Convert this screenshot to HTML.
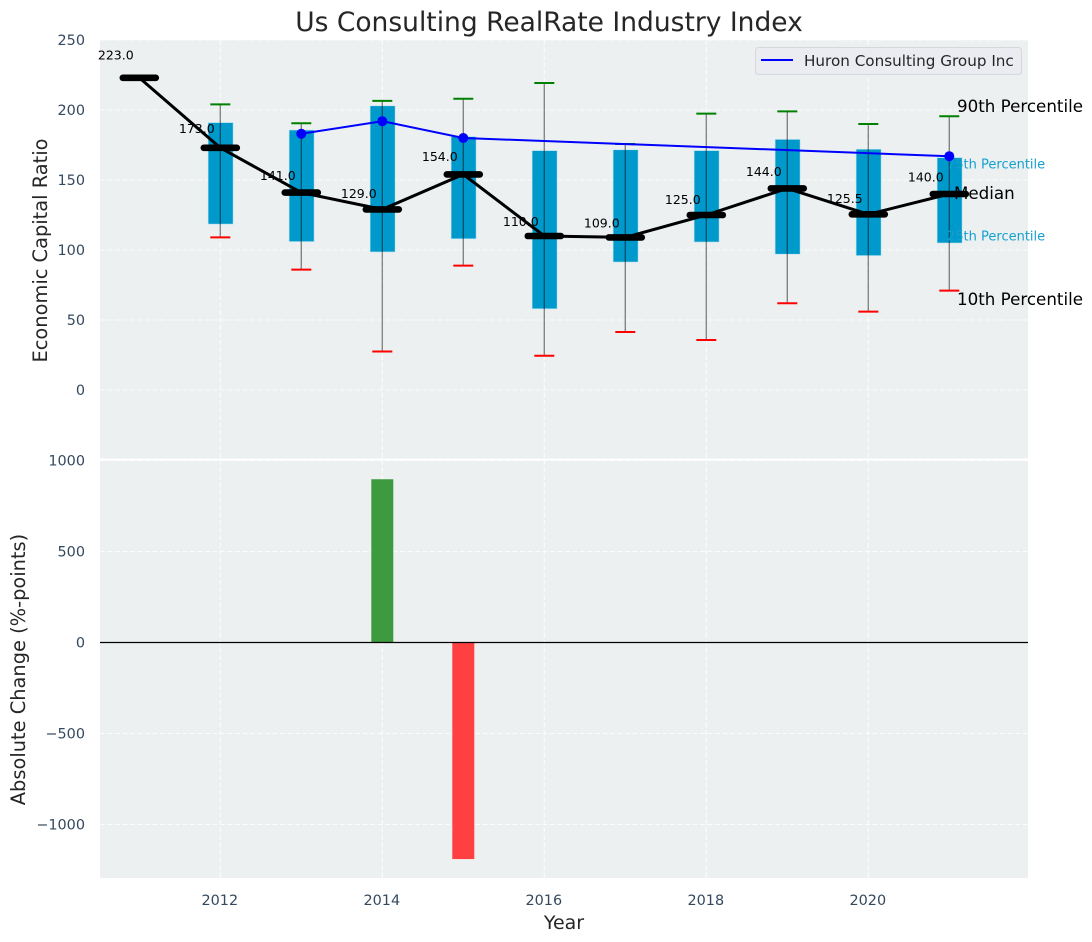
<!DOCTYPE html>
<html lang="en">
<head>
<meta charset="utf-8">
<title>Us Consulting RealRate Industry Index</title>
<style>
html,body{margin:0;padding:0;background:#fff;width:1092px;height:942px;overflow:hidden}
svg{display:block;font-family:"DejaVu Sans","Liberation Sans",sans-serif}
</style>
</head>
<body>
<svg id="chart" xmlns="http://www.w3.org/2000/svg" width="1092" height="942" viewBox="0 0 1092 942">
  <rect x="100" y="40" width="928" height="419.5" fill="#ecf0f1"/>
  <rect x="100" y="459.5" width="928" height="418.5" fill="#ecf0f1"/>
  <g id="grid"></g>
  <g id="ticks"></g>
  <g id="boxes"></g>
  <g id="percentile-back">
    <text x="947" y="168.5" font-size="13" fill="#14a0cf">75th Percentile</text>
    <text x="947" y="240.5" font-size="13" fill="#14a0cf">25th Percentile</text>
  </g>
  <g id="huron"></g>
  <g id="median"></g>
  <g id="bars"></g>
  <line x1="100" x2="1028" y1="642.5" y2="642.5" stroke="#000" stroke-width="1.2"/>
  <rect x="100" y="458.5" width="928" height="2" fill="#fff"/>
  <g font-size="16.7" fill="#000">
    <text x="957" y="112">90th Percentile</text>
    <text x="954" y="199">Median</text>
    <text x="957" y="305">10th Percentile</text>
  </g>
  <text x="549" y="31" font-size="26.5" text-anchor="middle" fill="#262626">Us Consulting RealRate Industry Index</text>
  <text x="564" y="929" font-size="19" text-anchor="middle" fill="#262626">Year</text>
  <text transform="translate(47 250.5) rotate(-90)" font-size="19.4" text-anchor="middle" fill="#262626">Economic Capital Ratio</text>
  <text transform="translate(25 669.5) rotate(-90)" font-size="19.4" text-anchor="middle" fill="#262626">Absolute Change (%-points)</text>
  <g>
    <rect x="755.5" y="47.5" width="266" height="27" rx="3" fill="#eaecf1" stroke="#d6d7da" stroke-width="1"/>
    <line x1="761" x2="793" y1="60" y2="60" stroke="#0000ff" stroke-width="2"/>
    <text x="804" y="66" font-size="15.2" fill="#262626">Huron Consulting Group Inc</text>
  </g>
</svg>
<script>
const years = [2011, 2012, 2013, 2014, 2015, 2016, 2017, 2018, 2019, 2020, 2021];
const medianValues = [223, 173, 141, 129, 154, 110, 109, 125, 144, 125.5, 140];
const p90Values = [null, 204, 190.5, 206.5, 208, 219.3, 175.7, 197.4, 199, 190, 195.5];
const p75Values = [null, 191, 185.7, 203, 181, 171, 171.6, 171, 179, 172, 166];
const p25Values = [null, 118.5, 106, 98.6, 108, 58, 91.4, 105.7, 97, 96, 105];
const p10Values = [null, 109, 86, 27.5, 88.8, 24.5, 41.4, 35.7, 62, 56, 71];
const huronValues = [null, null, 183, 192, 180, null, null, null, null, null, 167];
const changeValues = [null, null, null, 897, -1190, null, null, null, null, null, null];
const topTicks = [0, 50, 100, 150, 200, 250];
const bottomTicks = [-1000, -500, 0, 500, 1000];
const xTicks = [2012, 2014, 2016, 2018, 2020];

const NS = 'http://www.w3.org/2000/svg';
function xScale(year) { return 220.3 + (year - 2012) * 81; }
function yTop(v) { return 390 - 1.4 * v; }
function yBottom(v) { return 642.5 - 0.182 * v; }
function make(tag, parentId, props) {
  const el = document.createElementNS(NS, tag);
  for (const k in props) el.setAttribute(k, props[k]);
  document.getElementById(parentId).appendChild(el);
  return el;
}

const gridStyle = { stroke: '#ffffff', 'stroke-width': 1.1, 'stroke-dasharray': '5 2.5', opacity: 0.85 };
xTicks.forEach(function (t) {
  const g = make('line', 'grid', Object.assign({ x1: xScale(t), x2: xScale(t), y1: 40, y2: 878 }, gridStyle));
  
  
  const lab = make('text', 'ticks', { x: xScale(t) - 0.5, y: 905, 'font-size': 14.4, 'text-anchor': 'middle', fill: '#34495e' });
  lab.textContent = String(t);
  
  
});
topTicks.forEach(function (t) {
  const g = make('line', 'grid', Object.assign({ x1: 100, x2: 1028, y1: yTop(t), y2: yTop(t) }, gridStyle));
  
  
  const lab = make('text', 'ticks', { x: 85, y: yTop(t) + 5, 'font-size': 14.4, 'text-anchor': 'end', fill: '#34495e' });
  lab.textContent = String(t);
  
  
});
bottomTicks.forEach(function (t) {
  const g = make('line', 'grid', Object.assign({ x1: 100, x2: 1028, y1: yBottom(t), y2: yBottom(t) }, gridStyle));
  
  
  const lab = make('text', 'ticks', { x: 85, y: yBottom(t) + 5, 'font-size': 14.4, 'text-anchor': 'end', fill: '#34495e' });
  lab.textContent = String(t).replace('-', '\u2212');
  
  
});

years.forEach(function (year, i) {
  if (p75Values[i] === null) return;
  const cx = xScale(year);
  const box = make('rect', 'boxes', { x: cx - 12.2, y: yTop(p75Values[i]), width: 25, height: yTop(p25Values[i]) - yTop(p75Values[i]), fill: '#0099cc', stroke: '#bfe3ef', 'stroke-width': 0.6 });
  
  
  const whisker = make('line', 'boxes', { x1: cx, x2: cx, y1: yTop(p90Values[i]), y2: yTop(p10Values[i]), stroke: '#000', 'stroke-width': 1.4, opacity: 0.45 });
  
  
  const capHigh = make('line', 'boxes', { x1: cx - 10, x2: cx + 10, y1: yTop(p90Values[i]), y2: yTop(p90Values[i]), stroke: '#008000', 'stroke-width': 2 });
  
  
  const capLow = make('line', 'boxes', { x1: cx - 10, x2: cx + 10, y1: yTop(p10Values[i]), y2: yTop(p10Values[i]), stroke: '#ff0000', 'stroke-width': 2 });
  
  
});

const huronPoints = [];
years.forEach(function (year, i) {
  if (huronValues[i] !== null) huronPoints.push(xScale(year) + ',' + yTop(huronValues[i]));
});
const huronLine = make('polyline', 'huron', { points: huronPoints.join(' '), fill: 'none', stroke: '#0000ff', 'stroke-width': 2 });


years.forEach(function (year, i) {
  if (huronValues[i] === null) return;
  const dot = make('circle', 'huron', { cx: xScale(year), cy: yTop(huronValues[i]), r: 5, fill: '#0000ff' });
  
  
});

const medianLine = make('polyline', 'median', { points: years.map(function (year, i) { return xScale(year) + ',' + yTop(medianValues[i]); }).join(' '), fill: 'none', stroke: '#000', 'stroke-width': 3 });


years.forEach(function (year, i) {
  const cx = xScale(year);
  const cap = make('line', 'median', { x1: cx - 16.5, x2: cx + 16.5, y1: yTop(medianValues[i]), y2: yTop(medianValues[i]), stroke: '#000', 'stroke-width': 6.6, 'stroke-linecap': 'round' });
  
  
  const label = make('text', 'median', { x: cx - 23.5, y: yTop(medianValues[i] * 1.05 + 5) + 4.5, 'font-size': 12.5, 'text-anchor': 'middle', fill: '#000' });
  label.textContent = medianValues[i].toFixed(1);
  
  
});

years.forEach(function (year, i) {
  if (changeValues[i] === null) return;
  const v = changeValues[i];
  const bar = make('rect', 'bars', { x: xScale(year) - 11, y: Math.min(yBottom(v), yBottom(0)), width: 22, height: Math.abs(yBottom(v) - yBottom(0)), fill: v >= 0 ? '#3d9a3f' : '#ff4040' });
  
  
});
</script>
</body>
</html>
